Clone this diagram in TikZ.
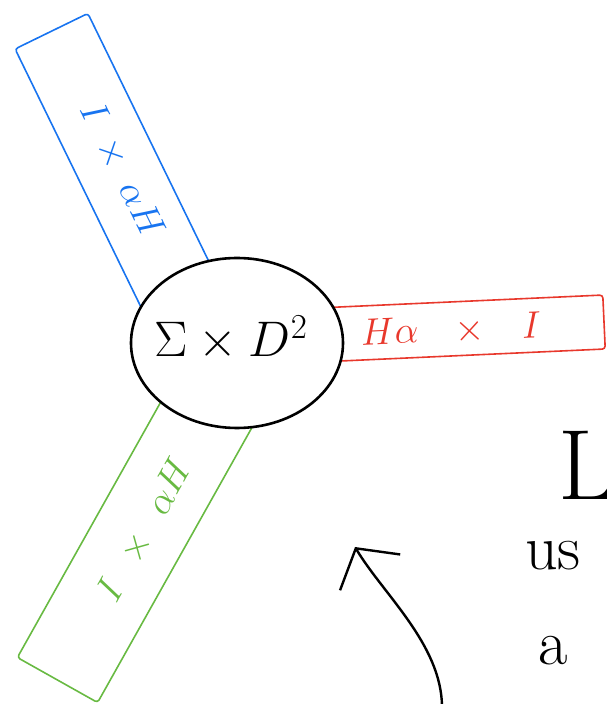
\RequirePackage{fix-cm}
\documentclass[tikz,border=0pt]{standalone}
\usepackage{amsmath}
\usepackage{tikz}
\usetikzlibrary{positioning}
\usetikzlibrary{arrows.meta}
\usetikzlibrary{shapes.geometric}

\definecolor{bandblue}{RGB}{24,116,240}
\definecolor{bandred}{RGB}{232,56,44}
\definecolor{bandgreen}{RGB}{104,186,66}

\begin{document}
\begin{tikzpicture}[
    x=1pt, y=1pt,
    band/.style={rectangle, rounded corners=3pt, draw, line width=1.6pt, inner sep=0pt},
    core/.style={ellipse, draw, line width=2.6pt, fill=white, inner sep=0pt, minimum width=212pt, minimum height=170pt},
    tag/.style={font=\fontsize{38}{44}\selectfont, inner sep=0pt},
    scrawl/.style={font=\fontsize{64}{74}\selectfont, inner sep=0pt, anchor=base west}
  ]
  \useasboundingbox (0,0) rectangle (606,704);

  % Bands (drawn first, the core hides their inner ends)
  \node[band, draw=bandblue, minimum width=340pt, minimum height=81pt, rotate=-64] (blueband) at (126,520) {};
  \node[band, draw=bandgreen, minimum width=320pt, minimum height=92pt, rotate=60.7] (greenband) at (135.8,163.5) {};
  \node[band, draw=bandred, minimum width=365pt, minimum height=54pt, rotate=2.6] (redband) at (421.7,373.7) {};

  % Core
  \node[core] (core) at (237,361) {};
  \node[tag, font=\fontsize{50}{60}\selectfont] (coretag) at (231,366) {$\Sigma \times D^2$};

  % Band labels
  \node[tag, bandblue, rotate=-64] (bluetag) at (122,534) {$I\hspace{0.3em}\times\hspace{0.3em}\alpha H$};
  \node[tag, bandgreen, rotate=60.7] (greentag) at (145,174) {$I\hspace{0.45em}\times\hspace{0.45em}\alpha H$};
  \node[tag, bandred, rotate=2.6] (redtag) at (451,374) {$H\alpha\hspace{0.75em}\times\hspace{0.75em}I$};

  % Notes on the right
  \node[scrawl, font=\fontsize{100}{110}\selectfont] (bigL) at (558,204) {L};
  \node[scrawl] (usword) at (525,134) {us};
  \node[scrawl] (aword) at (538,39) {a};

  % Arrow
  \coordinate (arrowfoot) at (442,-2);
  \coordinate (arrowtip) at (355,157);
  \draw[line width=2.4pt, -{Straight Barb[length=28pt, width=70pt]}] (arrowfoot) .. controls (441,60) and (383,110) .. (arrowtip);

\end{tikzpicture}
\end{document}
